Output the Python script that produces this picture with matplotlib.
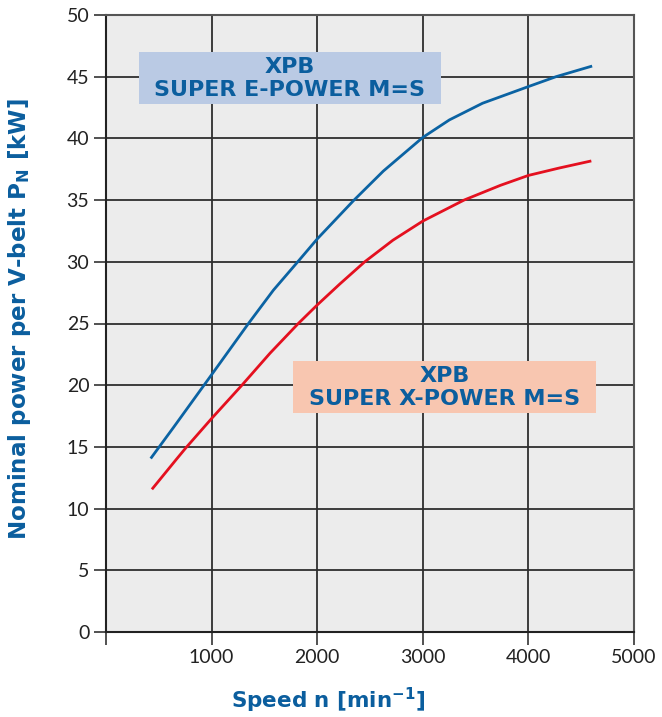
import matplotlib
matplotlib.use("Agg")
import matplotlib.pyplot as plt
from matplotlib.patches import Rectangle

# Data
e_power_speed = [431, 641, 1000, 1349, 1585, 1821, 2000, 2343, 2626, 3000,
                 3252, 3566, 4000, 4261, 4591]
e_power_kw    = [14.15, 16.6, 20.85, 25.0, 27.7, 30.05, 31.85, 34.95, 37.35, 40.08,
                 41.5, 42.85, 44.2, 45.0, 45.83]
x_power_speed = [443, 667, 754, 1000, 1287, 1554, 1821, 2000, 2214, 2450,
                 2717, 3000, 3390, 3736, 4000, 4292, 4583]
x_power_kw    = [11.65, 14.0, 14.9, 17.3, 20.0, 22.6, 25.0, 26.5, 28.2, 30.0,
                 31.75, 33.3, 35.0, 36.2, 37.0, 37.6, 38.15]

x_ticks = [0, 1000, 2000, 3000, 4000, 5000]
x_tick_labels = ["", "1000", "2000", "3000", "4000", "5000"]
y_ticks = [0, 5, 10, 15, 20, 25, 30, 35, 40, 45, 50]

label_e = "XPB\nSUPER E-POWER M=S"
label_x = "XPB\nSUPER X-POWER M=S"

BLUE_TXT = "#0b5e9e"
BLUE_LINE = "#0b63a3"
RED_LINE = "#e4101f"
plt.rcParams["mathtext.default"] = "bf"

W, H = 662, 717
fig = plt.figure(figsize=(W / 100, H / 100), dpi=100)
ax = fig.add_axes([106 / W, (H - 632) / H, (634 - 106) / W, (632 - 15) / H])
ax.set_facecolor("#ececec")
ax.set_xlim(0, 5000)
ax.set_ylim(0, 50)

ax.set_xticks(x_ticks)
ax.set_xticklabels(x_tick_labels)
ax.set_yticks(y_ticks)
ax.grid(True, color="#2e2e2e", linewidth=1.3, zorder=1)
ax.set_axisbelow(True)
for s in ["top", "right"]:
    ax.spines[s].set_color("#555555")
    ax.spines[s].set_linewidth(1.5)
for s in ["left", "bottom"]:
    ax.spines[s].set_color("#222222")
    ax.spines[s].set_linewidth(1.5)
ax.tick_params(axis="both", length=9, width=1.2, color="#333333",
               labelsize=14, labelcolor="#222222", pad=3)
for lab in ax.get_xticklabels() + ax.get_yticklabels():
    lab.set_family("Lato")

ax.plot(e_power_speed, e_power_kw, color=BLUE_LINE, lw=2.0, zorder=4)
ax.plot(x_power_speed, x_power_kw, color=RED_LINE, lw=2.0, zorder=4)

# label boxes (data coords)
ax.add_patch(Rectangle((312, 42.75), 3170 - 312, 47.0 - 42.75,
                       facecolor="#bacae4", edgecolor="none", zorder=3))
ax.text(1740, 44.85, label_e, ha="center", va="center", fontsize=16,
        fontweight="bold", color=BLUE_TXT, family="DejaVu Sans",
        linespacing=1.15, zorder=5)
ax.add_patch(Rectangle((1775, 17.75), 4640 - 1775, 21.97 - 17.75,
                       facecolor="#f8c6b0", edgecolor="none", zorder=3))
ax.text(3207, 19.82, label_x, ha="center", va="center", fontsize=16,
        fontweight="bold", color=BLUE_TXT, family="DejaVu Sans",
        linespacing=1.15, zorder=5)

fig.text(20 / W, 1 - 319 / H, "Nominal power per V-belt P$_{\\mathbf{N}}$ [kW]",
         rotation=90, ha="center", va="center", fontsize=16.6,
         fontweight="bold", color=BLUE_TXT, family="DejaVu Sans")
fig.text(328 / W, 1 - 700 / H, "Speed n [min$^{\\mathbf{-1}}$]",
         ha="center", va="center", fontsize=15.5,
         fontweight="bold", color=BLUE_TXT, family="DejaVu Sans")

fig.savefig("out.png", dpi=100, facecolor="white")
